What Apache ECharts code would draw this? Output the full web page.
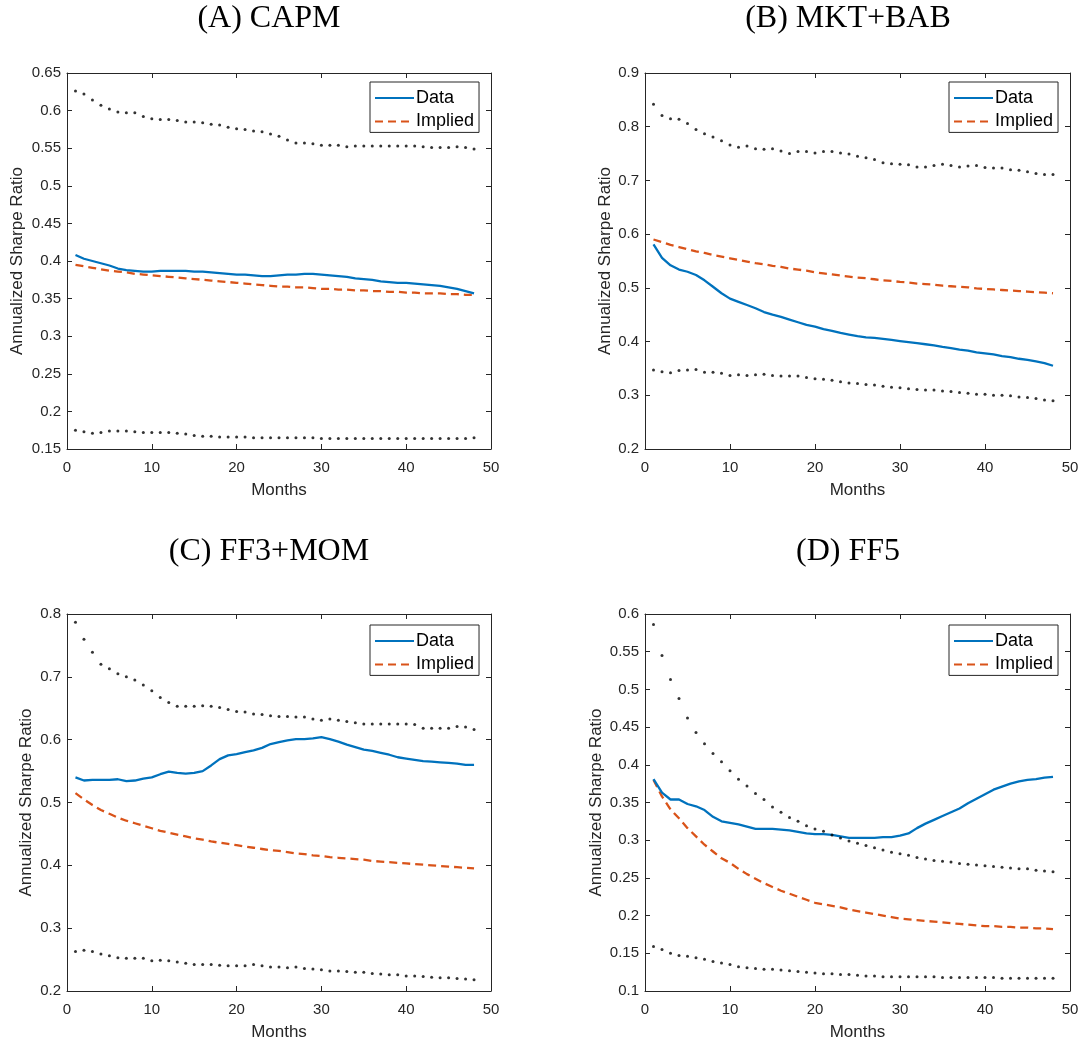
<!DOCTYPE html>
<html>
<head>
<meta charset="utf-8">
<script src="https://cdn.jsdelivr.net/npm/echarts@6/dist/echarts.min.js"></script>
<style>
html,body{margin:0;padding:0;background:#fff;}
#chart{width:1082px;height:1044px;}
</style>
</head>
<body>
<div id="chart"></div>
<script>
// ---------- DATA ----------
const months = [1,2,3,4,5,6,7,8,9,10,11,12,13,14,15,16,17,18,19,20,21,22,23,24,25,26,27,28,29,30,31,32,33,34,35,36,37,38,39,40,41,42,43,44,45,46,47,48];
const xTicks = [0,10,20,30,40,50];

const titleA = "(A) CAPM";
const dataA = [0.408,0.403,0.400,0.397,0.394,0.390,0.388,0.387,0.386,0.386,0.387,0.387,0.387,0.387,0.386,0.386,0.385,0.384,0.383,0.382,0.382,0.381,0.380,0.380,0.381,0.382,0.382,0.383,0.383,0.382,0.381,0.380,0.379,0.377,0.376,0.375,0.373,0.372,0.371,0.371,0.370,0.369,0.368,0.367,0.365,0.363,0.360,0.357];
const impliedA = [0.395,0.393,0.391,0.389,0.387,0.386,0.385,0.383,0.382,0.381,0.380,0.379,0.378,0.377,0.376,0.375,0.374,0.373,0.372,0.371,0.370,0.369,0.368,0.367,0.366,0.366,0.365,0.365,0.364,0.363,0.363,0.362,0.362,0.361,0.361,0.360,0.360,0.359,0.359,0.358,0.358,0.357,0.357,0.357,0.356,0.356,0.355,0.355];
const upperA = [0.626,0.622,0.614,0.607,0.602,0.598,0.597,0.597,0.592,0.589,0.588,0.588,0.587,0.585,0.585,0.584,0.582,0.581,0.578,0.576,0.575,0.573,0.572,0.569,0.566,0.561,0.557,0.557,0.556,0.554,0.554,0.554,0.552,0.553,0.553,0.553,0.553,0.553,0.553,0.553,0.553,0.552,0.551,0.551,0.551,0.552,0.551,0.549];
const lowerA = [0.175,0.173,0.171,0.172,0.174,0.174,0.174,0.173,0.172,0.172,0.172,0.172,0.171,0.170,0.168,0.167,0.167,0.166,0.166,0.166,0.166,0.165,0.165,0.165,0.165,0.165,0.165,0.165,0.165,0.164,0.164,0.164,0.164,0.164,0.164,0.164,0.164,0.164,0.164,0.164,0.164,0.164,0.164,0.164,0.164,0.164,0.164,0.165];
const yRangeA = [0.15, 0.65, 0.05];

const titleB = "(B) MKT+BAB";
const dataB = [0.581,0.556,0.542,0.534,0.530,0.524,0.514,0.502,0.490,0.480,0.474,0.468,0.462,0.455,0.450,0.446,0.441,0.436,0.431,0.428,0.423,0.420,0.416,0.413,0.410,0.408,0.407,0.405,0.403,0.401,0.399,0.397,0.395,0.393,0.390,0.388,0.385,0.383,0.380,0.378,0.376,0.373,0.371,0.368,0.366,0.363,0.360,0.355];
const impliedB = [0.590,0.585,0.580,0.576,0.572,0.568,0.565,0.561,0.558,0.555,0.552,0.549,0.546,0.544,0.541,0.539,0.536,0.534,0.532,0.529,0.527,0.525,0.523,0.521,0.519,0.518,0.516,0.514,0.513,0.511,0.510,0.508,0.507,0.506,0.504,0.503,0.502,0.501,0.499,0.498,0.497,0.496,0.495,0.494,0.493,0.492,0.491,0.490];
const upperB = [0.842,0.821,0.815,0.814,0.806,0.795,0.787,0.781,0.774,0.766,0.762,0.764,0.759,0.758,0.759,0.755,0.750,0.754,0.754,0.751,0.754,0.754,0.751,0.749,0.745,0.742,0.739,0.733,0.731,0.730,0.729,0.725,0.725,0.728,0.730,0.728,0.725,0.727,0.728,0.724,0.723,0.723,0.720,0.719,0.716,0.713,0.711,0.711];
const lowerB = [0.347,0.344,0.342,0.346,0.347,0.348,0.343,0.343,0.341,0.337,0.338,0.337,0.338,0.339,0.337,0.336,0.336,0.336,0.333,0.331,0.330,0.328,0.325,0.323,0.322,0.320,0.319,0.317,0.315,0.314,0.312,0.311,0.310,0.310,0.308,0.307,0.305,0.304,0.302,0.302,0.300,0.300,0.299,0.297,0.296,0.294,0.291,0.290];
const yRangeB = [0.2, 0.9, 0.1];

const titleC = "(C) FF3+MOM";
const dataC = [0.540,0.535,0.536,0.536,0.536,0.537,0.534,0.535,0.538,0.540,0.545,0.549,0.547,0.546,0.547,0.550,0.559,0.569,0.575,0.577,0.580,0.583,0.587,0.593,0.596,0.599,0.601,0.601,0.602,0.604,0.601,0.597,0.592,0.588,0.584,0.582,0.579,0.576,0.572,0.570,0.568,0.566,0.565,0.564,0.563,0.562,0.560,0.560];
const impliedC = [0.515,0.505,0.496,0.488,0.482,0.476,0.471,0.467,0.463,0.459,0.455,0.452,0.449,0.446,0.443,0.441,0.438,0.436,0.434,0.432,0.430,0.428,0.426,0.424,0.423,0.421,0.419,0.418,0.416,0.415,0.413,0.412,0.411,0.410,0.409,0.407,0.406,0.405,0.404,0.403,0.402,0.401,0.400,0.399,0.398,0.397,0.396,0.395];
const upperC = [0.787,0.760,0.739,0.720,0.713,0.705,0.700,0.695,0.687,0.678,0.667,0.659,0.653,0.653,0.653,0.654,0.653,0.651,0.648,0.645,0.644,0.641,0.640,0.638,0.637,0.637,0.636,0.636,0.633,0.631,0.633,0.631,0.629,0.627,0.625,0.625,0.625,0.625,0.625,0.625,0.624,0.618,0.618,0.618,0.618,0.621,0.620,0.616];
const lowerC = [0.263,0.265,0.263,0.259,0.256,0.253,0.252,0.252,0.252,0.248,0.249,0.248,0.246,0.244,0.242,0.242,0.242,0.241,0.240,0.240,0.240,0.242,0.240,0.238,0.238,0.237,0.238,0.236,0.235,0.234,0.232,0.232,0.231,0.230,0.230,0.228,0.227,0.226,0.226,0.224,0.224,0.223,0.222,0.221,0.221,0.220,0.219,0.218];
const yRangeC = [0.2, 0.8, 0.1];

const titleD = "(D) FF5";
const dataD = [0.381,0.363,0.354,0.354,0.348,0.345,0.340,0.331,0.325,0.323,0.321,0.318,0.315,0.315,0.315,0.314,0.313,0.311,0.309,0.308,0.308,0.307,0.305,0.303,0.303,0.303,0.303,0.304,0.304,0.306,0.309,0.316,0.322,0.327,0.332,0.337,0.342,0.349,0.355,0.361,0.367,0.371,0.375,0.378,0.380,0.381,0.383,0.384];
const impliedD = [0.380,0.358,0.341,0.329,0.316,0.305,0.294,0.285,0.276,0.270,0.262,0.255,0.249,0.243,0.238,0.233,0.229,0.225,0.221,0.217,0.215,0.213,0.211,0.208,0.206,0.204,0.202,0.200,0.198,0.196,0.195,0.194,0.193,0.192,0.191,0.190,0.189,0.188,0.187,0.186,0.186,0.185,0.185,0.184,0.184,0.183,0.183,0.182];
const upperD = [0.586,0.545,0.513,0.488,0.462,0.443,0.428,0.415,0.404,0.392,0.381,0.372,0.362,0.354,0.344,0.337,0.330,0.325,0.319,0.315,0.312,0.307,0.303,0.299,0.296,0.293,0.290,0.287,0.284,0.282,0.280,0.277,0.275,0.273,0.272,0.271,0.269,0.268,0.267,0.266,0.265,0.264,0.263,0.262,0.262,0.260,0.259,0.258];
const lowerD = [0.159,0.155,0.150,0.147,0.146,0.144,0.142,0.139,0.137,0.135,0.132,0.131,0.130,0.129,0.129,0.128,0.127,0.126,0.125,0.124,0.123,0.123,0.122,0.122,0.121,0.120,0.120,0.119,0.119,0.119,0.119,0.119,0.119,0.119,0.118,0.118,0.118,0.118,0.118,0.118,0.118,0.117,0.117,0.117,0.117,0.117,0.117,0.117];
const yRangeD = [0.1, 0.6, 0.05];

const seriesNames = ["Data", "Implied"];
const xName = "Months";
const yName = "Annualized Sharpe Ratio";

// ---------- LAYOUT / STYLE ----------
const panels = [
  {title: titleA, data: dataA, implied: impliedA, upper: upperA, lower: lowerA, yr: yRangeA,
   grid: {left: 67, top: 73, width: 424, height: 376}, titleX: 269, titleY: 18.5, nameGap: 41, legend: {left: 370, top: 82}},
  {title: titleB, data: dataB, implied: impliedB, upper: upperB, lower: lowerB, yr: yRangeB,
   grid: {left: 645, top: 73, width: 425, height: 376}, titleX: 848, titleY: 18.5, nameGap: 31, legend: {left: 949, top: 82}},
  {title: titleC, data: dataC, implied: impliedC, upper: upperC, lower: lowerC, yr: yRangeC,
   grid: {left: 67, top: 614, width: 424, height: 377}, titleX: 269, titleY: 552, nameGap: 32, legend: {left: 370, top: 625}},
  {title: titleD, data: dataD, implied: impliedD, upper: upperD, lower: lowerD, yr: yRangeD,
   grid: {left: 645, top: 614, width: 425, height: 377}, titleX: 848, titleY: 552, nameGap: 40, legend: {left: 949, top: 625}}
];

const AX = '#262626';
const SANS = 'Liberation Sans, Arial, Helvetica, sans-serif';
const BLUE = '#0072BD';
const ORANGE = '#D95319';

const option = {
  animation: false,
  backgroundColor: '#ffffff',
  grid: [], xAxis: [], yAxis: [], series: [], legend: [], graphic: []
};

panels.forEach((p, i) => {
  option.grid.push(Object.assign({containLabel: false, show: false}, p.grid));
  const tickCommon = {show: true, inside: true, length: 5, lineStyle: {color: AX, width: 1}};
  option.xAxis.push({
    type: 'value', gridIndex: i, min: xTicks[0], max: xTicks[xTicks.length - 1], interval: 10,
    position: 'bottom',
    axisLine: {show: true, onZero: false, lineStyle: {color: AX, width: 1}},
    axisTick: tickCommon, splitLine: {show: false},
    axisLabel: {color: AX, fontSize: 15, fontFamily: SANS, margin: 11},
    name: xName, nameLocation: 'middle', nameGap: 33,
    nameTextStyle: {color: AX, fontSize: 17, fontFamily: SANS}
  });
  option.xAxis.push({
    type: 'value', gridIndex: i, min: xTicks[0], max: xTicks[xTicks.length - 1], interval: 10,
    position: 'top',
    axisLine: {show: true, onZero: false, lineStyle: {color: AX, width: 1}},
    axisTick: tickCommon, splitLine: {show: false}, axisLabel: {show: false}
  });
  option.yAxis.push({
    type: 'value', gridIndex: i, min: p.yr[0], max: p.yr[1], interval: p.yr[2],
    position: 'left',
    axisLine: {show: true, onZero: false, lineStyle: {color: AX, width: 1}},
    axisTick: tickCommon, splitLine: {show: false},
    axisLabel: {color: AX, fontSize: 15, fontFamily: SANS, margin: 6, padding: [4, 0, 0, 0]},
    name: yName, nameLocation: 'middle', nameGap: p.nameGap, nameRotate: 90,
    nameTextStyle: {color: AX, fontSize: 17, fontFamily: SANS}
  });
  option.yAxis.push({
    type: 'value', gridIndex: i, min: p.yr[0], max: p.yr[1], interval: p.yr[2],
    position: 'right',
    axisLine: {show: true, onZero: false, lineStyle: {color: AX, width: 1}},
    axisTick: tickCommon, splitLine: {show: false}, axisLabel: {show: false}
  });

  const xi = 2 * i, yi = 2 * i;
  const pairs = arr => months.map((m, k) => [m, arr[k]]);
  option.series.push({
    name: seriesNames[0], type: 'line', xAxisIndex: xi, yAxisIndex: yi,
    data: pairs(p.data), symbol: 'none', smooth: false,
    lineStyle: {color: BLUE, width: 2.3}, itemStyle: {color: BLUE}, z: 3
  });
  option.series.push({
    name: seriesNames[1], type: 'line', xAxisIndex: xi, yAxisIndex: yi,
    data: pairs(p.implied), symbol: 'none', smooth: false,
    lineStyle: {color: ORANGE, width: 2.3, type: [8, 5]}, itemStyle: {color: ORANGE}, z: 2
  });
  option.series.push({
    name: 'Upper bound', type: 'scatter', xAxisIndex: xi, yAxisIndex: yi,
    data: pairs(p.upper), symbol: 'circle', symbolSize: 3,
    itemStyle: {color: '#000000'}, z: 4, silent: true
  });
  option.series.push({
    name: 'Lower bound', type: 'scatter', xAxisIndex: xi, yAxisIndex: yi,
    data: pairs(p.lower), symbol: 'circle', symbolSize: 3,
    itemStyle: {color: '#000000'}, z: 4, silent: true
  });

  option.legend.push({
    data: seriesNames, orient: 'vertical', left: p.legend.left, top: p.legend.top,
    itemWidth: 39, itemHeight: 14, itemGap: 3.4,
    padding: [6, 5, 1, 4],
    borderColor: AX, borderWidth: 1, backgroundColor: '#ffffff',
    itemStyle: {opacity: 0},
    textStyle: {color: '#000000', fontSize: 18, fontFamily: SANS, lineHeight: 20, padding: [0, 0, 0, -3]},
    selectedMode: false
  });

  option.graphic.push({
    type: 'text', x: p.titleX, y: p.titleY,
    style: {text: p.title, x: 0, y: 0, textAlign: 'center', textVerticalAlign: 'middle',
            font: '32px "Liberation Serif", "DejaVu Serif", serif', fill: '#000000'}
  });
});

const chart = echarts.init(document.getElementById('chart'), null, {renderer: 'canvas'});
chart.setOption(option);
</script>
</body>
</html>
